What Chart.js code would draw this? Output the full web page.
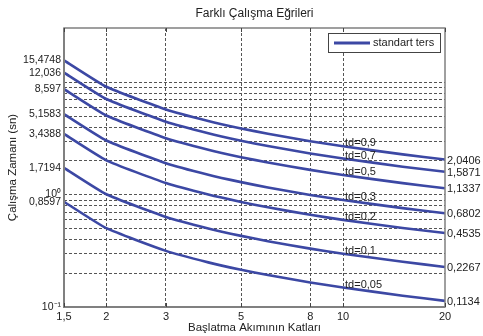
<!DOCTYPE html>
<html>
<head>
<meta charset="utf-8">
<script src="https://cdn.jsdelivr.net/npm/chart.js@4.4.1/dist/chart.umd.min.js"></script>
<style>
  html, body { margin: 0; padding: 0; background: #fff; }
  #wrap { width: 483px; height: 336px; }
</style>
</head>
<body>
<div id="wrap"><canvas id="myChart" width="483" height="336"></canvas></div>
<script>
// ===============================
// DATA
// ===============================
const xValues = [1.5, 2, 3, 4, 5, 6, 8, 10, 15, 20];

const td09 = [15.4748, 9.026, 5.672, 4.482, 3.852, 3.453, 2.967, 2.674, 2.264, 2.0406];
const td07 = [12.036, 7.020, 4.411, 3.486, 2.996, 2.686, 2.308, 2.080, 1.761, 1.5871];
const td05 = [8.597, 5.015, 3.151, 2.490, 2.140, 1.919, 1.649, 1.486, 1.258, 1.1337];
const td03 = [5.1583, 3.009, 1.891, 1.494, 1.284, 1.151, 0.989, 0.891, 0.755, 0.6802];
const td02 = [3.4388, 2.006, 1.260, 0.996, 0.856, 0.767, 0.659, 0.594, 0.503, 0.4535];
const td01 = [1.7194, 1.003, 0.630, 0.498, 0.428, 0.384, 0.330, 0.297, 0.252, 0.2267];
const td005 = [0.8597, 0.501, 0.315, 0.249, 0.214, 0.192, 0.165, 0.149, 0.126, 0.1134];

const seriesList = [td09, td07, td05, td03, td02, td01, td005];
const tdLabels = ['td=0,9', 'td=0,7', 'td=0,5', 'td=0,3', 'td=0,2', 'td=0,1', 'td=0,05'];
const endLabels = ['2,0406', '1,5871', '1,1337', '0,6802', '0,4535', '0,2267', '0,1134'];

const xTicks = [1.5, 2, 3, 5, 8, 10, 20];
const yTicks = [0.1, 0.8597, 1, 1.7194, 3.4388, 5.1583, 8.597, 12.036, 15.4748];
const yGrid = [0.2, 0.3, 0.4, 0.5, 0.6, 0.7, 0.8, 0.9, 1, 2, 3, 4, 5, 6, 7, 8, 9, 10];

const lineColor = '#3c48a4';
const textColor = '#222';
const FONT = 'Liberation Sans, Arial, sans-serif';

Chart.defaults.font.family = FONT;
Chart.defaults.color = textColor;

const fmt = v => String(v).replace('.', ',');

// ===============================
// EXTRA DRAWING (grid, border, labels, legend)
// ===============================
const decorPlugin = {
    id: 'decor',
    beforeDatasetsDraw(chart) {
        const { ctx, chartArea: a, scales: { y } } = chart;
        ctx.save();
        ctx.strokeStyle = '#555';
        ctx.lineWidth = 1;
        ctx.setLineDash([3, 2]);
        yGrid.forEach(v => {
            const py = Math.round(y.getPixelForValue(v)) + 0.5;
            ctx.beginPath();
            ctx.moveTo(a.left, py);
            ctx.lineTo(a.right, py);
            ctx.stroke();
        });
        ctx.restore();
    },
    afterDatasetsDraw(chart) {
        const { ctx, chartArea: a, scales: { x, y } } = chart;
        ctx.save();

        // frame
        ctx.strokeStyle = '#808080';
        ctx.lineWidth = 1.5;
        ctx.strokeRect(a.left, a.top, a.right - a.left, a.bottom - a.top);
        ctx.lineWidth = 2;
        ctx.beginPath();
        ctx.moveTo(a.left, a.top);
        ctx.lineTo(a.left, a.bottom);
        ctx.lineTo(a.right, a.bottom);
        ctx.stroke();

        // small inward ticks on x
        ctx.lineWidth = 1;
        ctx.strokeStyle = '#444';
        xTicks.forEach(v => {
            const px = Math.round(x.getPixelForValue(v)) + 0.5;
            ctx.beginPath();
            ctx.moveTo(px, a.top); ctx.lineTo(px, a.top + 4);
            ctx.moveTo(px, a.bottom); ctx.lineTo(px, a.bottom - 4);
            ctx.stroke();
        });

        // td labels at x = 10 and end values on the right
        ctx.fillStyle = textColor;
        ctx.font = '11px ' + FONT;
        ctx.textBaseline = 'middle';
        ctx.textAlign = 'left';
        const i10 = xValues.indexOf(10);
        seriesList.forEach((s, i) => {
            const px = x.getPixelForValue(10);
            ctx.fillText(tdLabels[i], px + 2, y.getPixelForValue(s[i10]) - 3);
            ctx.fillText(endLabels[i], a.right + 2, y.getPixelForValue(s[s.length - 1]) + 1);
        });

        // legend box
        const lx = 328, ly = 33, lw = 112, lh = 19;
        ctx.fillStyle = '#fff';
        ctx.fillRect(lx, ly, lw, lh);
        ctx.strokeStyle = '#444';
        ctx.lineWidth = 1;
        ctx.strokeRect(lx + 0.5, ly + 0.5, lw, lh);
        ctx.strokeStyle = lineColor;
        ctx.lineWidth = 3;
        ctx.beginPath();
        ctx.moveTo(lx + 6, ly + 10);
        ctx.lineTo(lx + 42, ly + 10);
        ctx.stroke();
        ctx.fillStyle = textColor;
        ctx.fillText('standart ters', lx + 45, ly + 10);

        // title
        ctx.textAlign = 'center';
        ctx.font = '12px ' + FONT;
        ctx.fillText('Farklı Çalışma Eğrileri', (a.left + a.right) / 2, 14);
        ctx.restore();
    }
};

// ===============================
// CHART
// ===============================
const datasets = seriesList.map((s, i) => ({
    label: i === 0 ? 'standart ters' : tdLabels[i],
    data: xValues.map((xv, j) => ({ x: xv, y: s[j] })),
    borderColor: lineColor,
    borderWidth: 2.6,
    pointRadius: 0,
    tension: 0.15,
    fill: false
}));

new Chart(document.getElementById('myChart').getContext('2d'), {
    type: 'line',
    data: { datasets },
    plugins: [decorPlugin],
    options: {
        responsive: false,
        animation: false,
        layout: { padding: { left: 0, right: 38, top: 28, bottom: 0 } },
        plugins: {
            legend: { display: false },
            tooltip: { enabled: false }
        },
        scales: {
            x: {
                type: 'logarithmic',
                min: 1.5,
                max: 20,
                afterBuildTicks: s => { s.ticks = xTicks.map(v => ({ value: v })); },
                afterFit: s => { s.height = 29; },
                ticks: {
                    autoSkip: false,
                    maxRotation: 0,
                    padding: 3,
                    font: { size: 11 },
                    color: textColor,
                    callback: v => fmt(v)
                },
                grid: {
                    drawTicks: false,
                    color: c => (c.index === 0 || c.index === xTicks.length - 1) ? 'rgba(0,0,0,0)' : '#555',
                    lineWidth: 1
                },
                border: { display: false, dash: [3, 2] },
                title: {
                    display: true,
                    text: 'Başlatma Akımının Katları',
                    font: { size: 11.5 },
                    color: textColor,
                    padding: { top: 0, bottom: 1 }
                }
            },
            y: {
                type: 'logarithmic',
                min: 0.1,
                max: 30,
                afterBuildTicks: s => { s.ticks = yTicks.map(v => ({ value: v })); },
                afterFit: s => { s.width = 64; },
                ticks: {
                    autoSkip: false,
                    padding: 3,
                    font: { size: 10.5 },
                    color: textColor,
                    callback: v => v === 0.1 ? '10⁻¹' : v === 1 ? '10⁰' : fmt(v)
                },
                grid: { display: false, drawTicks: false },
                border: { display: false },
                title: {
                    display: true,
                    text: 'Çalışma Zamanı (sn)',
                    font: { size: 11.5 },
                    color: textColor,
                    padding: { top: 6, bottom: 0 }
                }
            }
        }
    }
});
</script>
</body>
</html>
